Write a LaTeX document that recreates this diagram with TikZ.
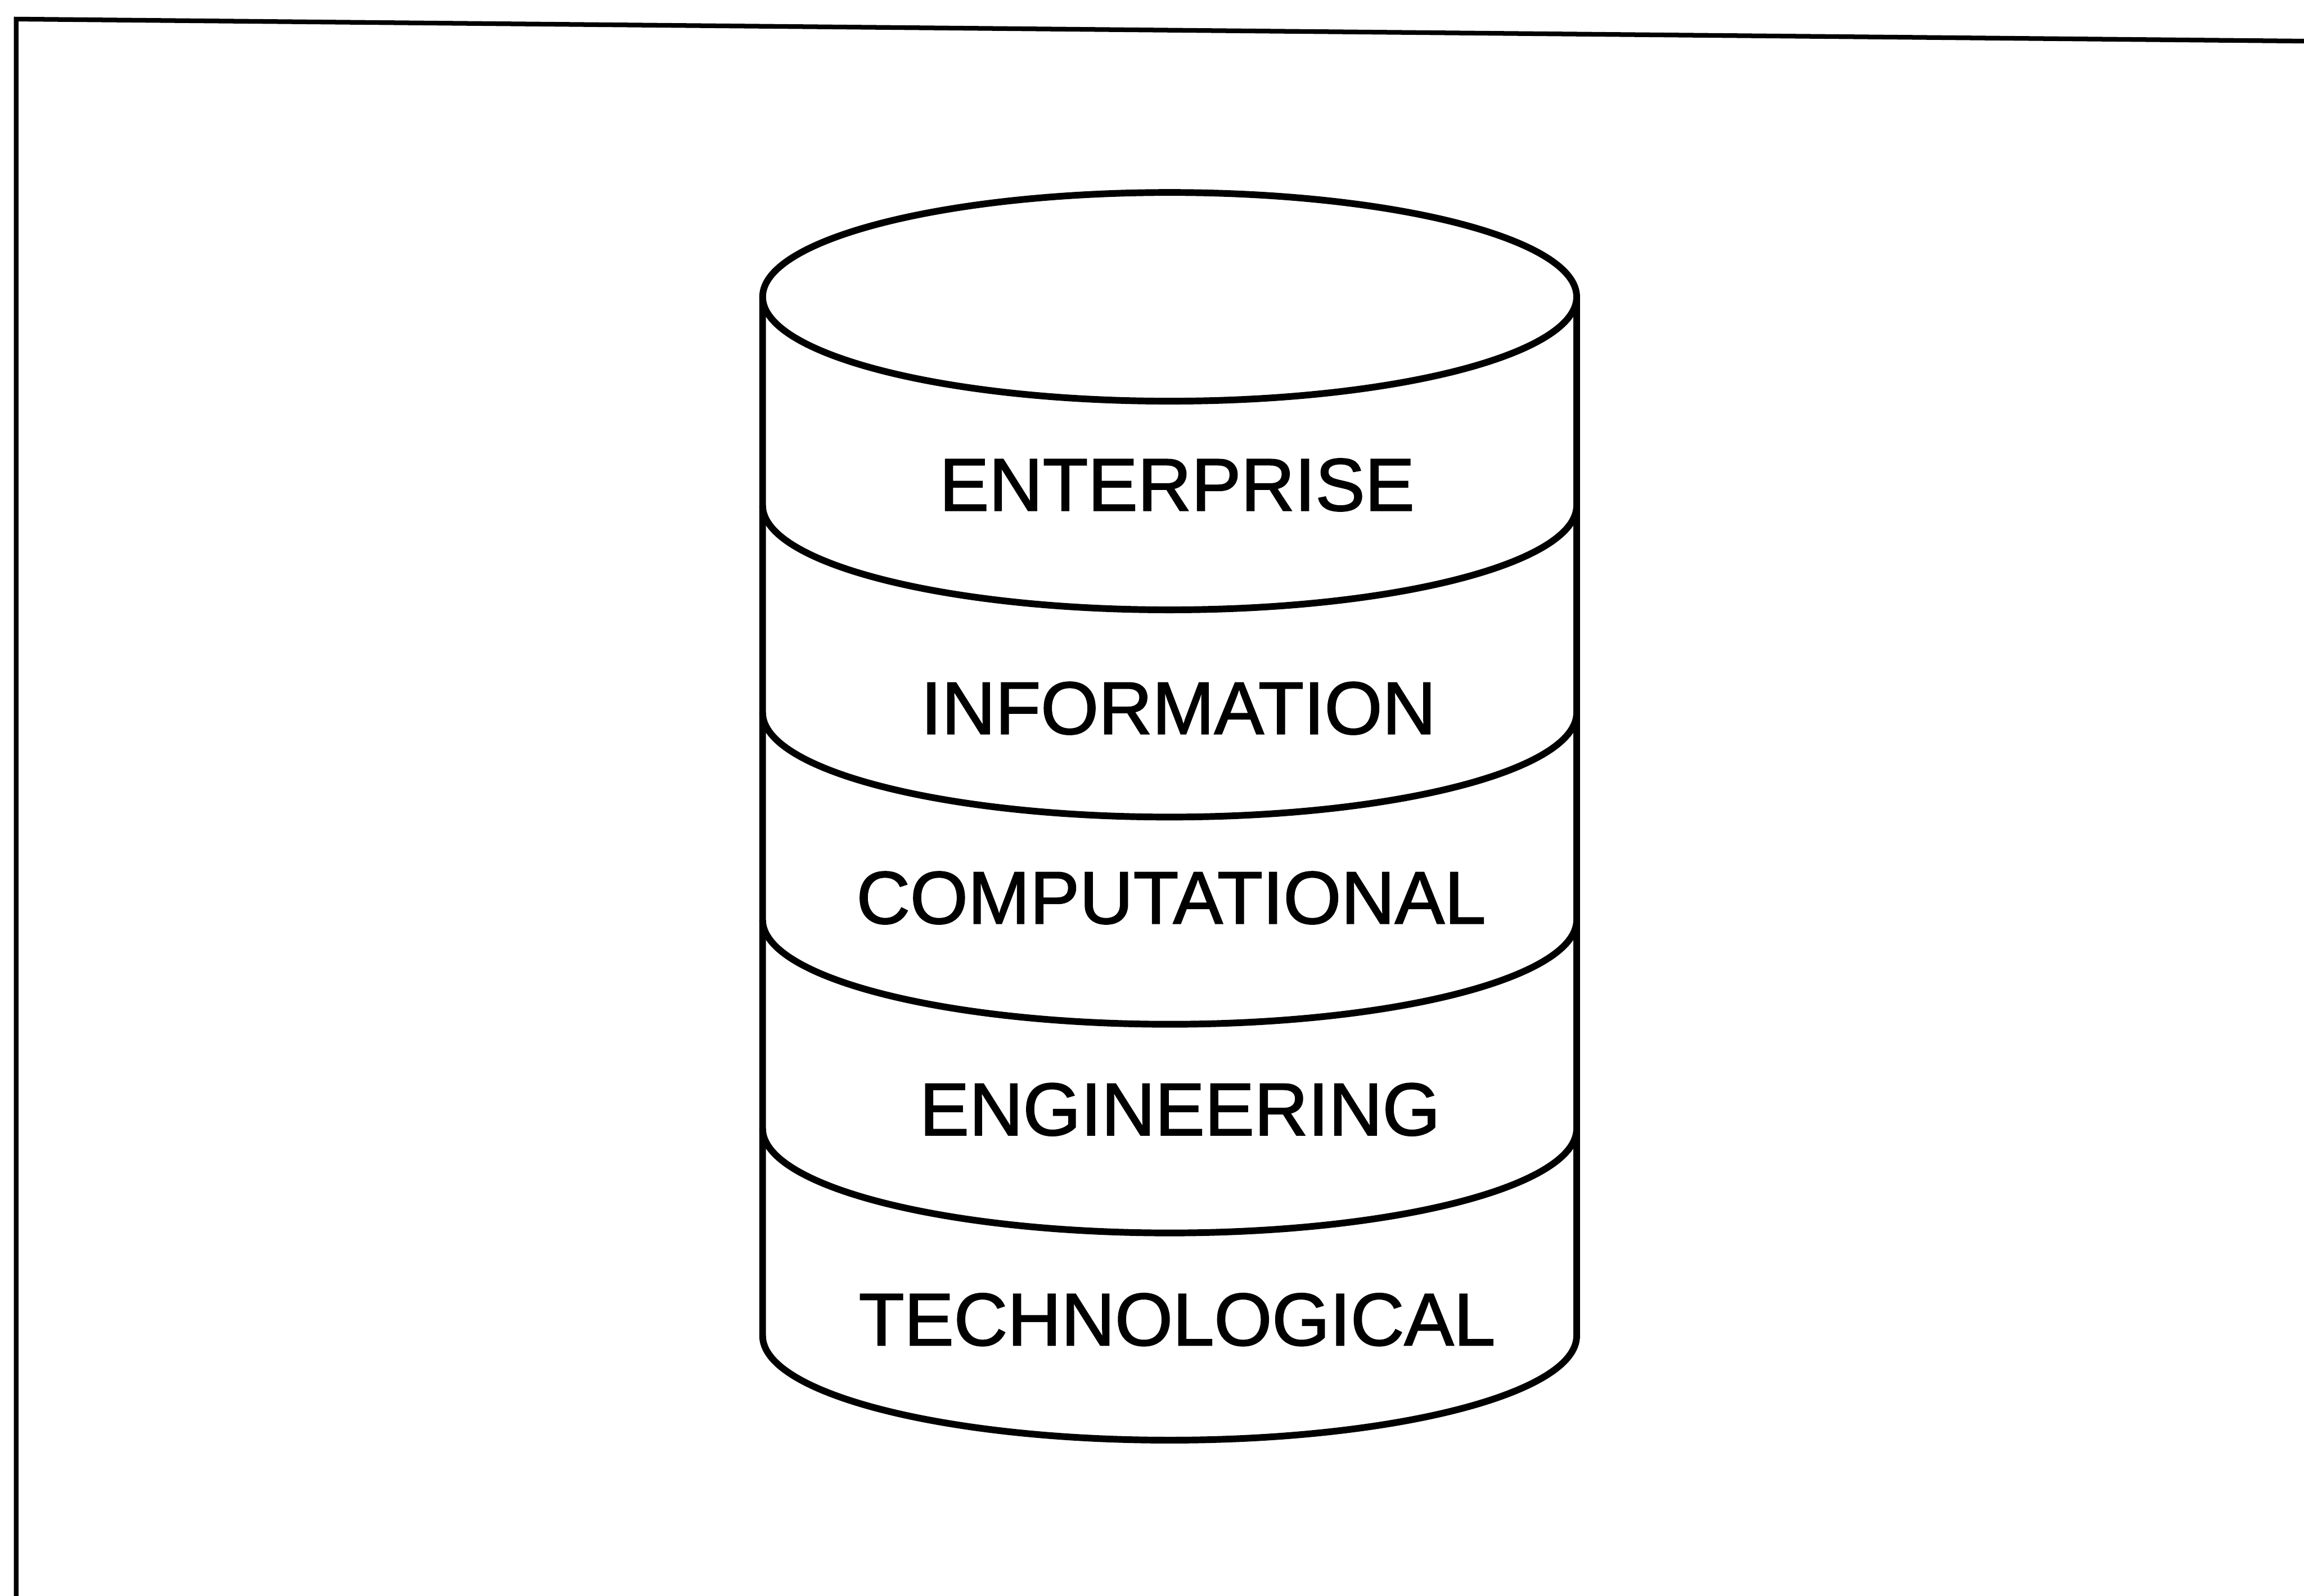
\documentclass[tikz,border=0pt]{standalone}
\usepackage{fontspec}
\setmainfont{Liberation Sans}
\newfontfamily\layerfont[FakeBold=1.6]{Liberation Sans}
\usepackage{tikz}
\usetikzlibrary{positioning}
\tikzset{
  frameline/.style={line width=0.9pt, black},
  cyl/.style={line width=1.3pt, black},
  layer/.style={font=\layerfont\fontsize{14.4}{17}\selectfont, inner sep=0pt, align=center},
}
\begin{document}
\begin{tikzpicture}
  \useasboundingbox (0,0) rectangle (15.68,10.86);
  % page frame (top and left edges only)
  \draw[frameline] (0.11,0) -- (0.11,10.73) -- (15.68,10.58);
  % cylinder: lid, sides, base
  \draw[cyl] (7.96,8.84) ellipse [x radius=2.77, y radius=0.71];
  \draw[cyl] (5.19,8.84) -- (5.19,1.77)
    arc [start angle=180, end angle=360, x radius=2.77, y radius=0.71]
    -- (10.73,8.84);
  % layer dividers
  \draw[cyl] (5.19,7.42) arc [start angle=180, end angle=360, x radius=2.77, y radius=0.71];
  \draw[cyl] (5.19,6.01) arc [start angle=180, end angle=360, x radius=2.77, y radius=0.71];
  \draw[cyl] (5.19,4.60) arc [start angle=180, end angle=360, x radius=2.77, y radius=0.71];
  \draw[cyl] (5.19,3.18) arc [start angle=180, end angle=360, x radius=2.77, y radius=0.71];
  % layer names
  \node[layer] (ent)  at (8.01,7.56) {ENTERPRISE};
  \node[layer] (info) at (8.02,6.04) {INFORMATION};
  \node[layer] (comp) at (7.97,4.75) {COMPUTATIONAL};
  \node[layer] (eng)  at (8.03,3.31) {ENGINEERING};
  \node[layer] (tech) at (8.01,1.88) {TECHNOLOGICAL};
\end{tikzpicture}
\end{document}
